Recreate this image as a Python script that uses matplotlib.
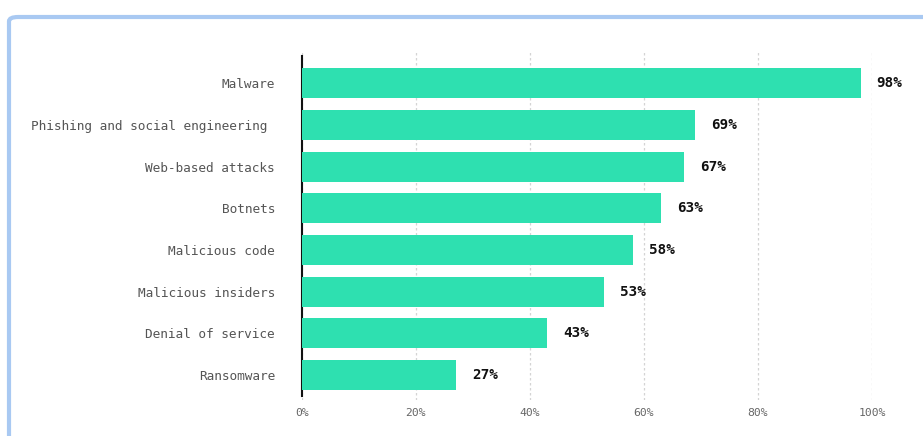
import matplotlib.pyplot as plt
from matplotlib.patches import FancyBboxPatch

# data
categories = ['Malware', 'Phishing and social engineering ', 'Web-based attacks', 'Botnets',
              'Malicious code', 'Malicious insiders', 'Denial of service', 'Ransomware']
values = [98, 69, 67, 63, 58, 53, 43, 27]
xticks = [0, 20, 40, 60, 80, 100]

mono = 'DejaVu Sans Mono'

fig = plt.figure(figsize=(9.23, 4.36), dpi=100)
# light blue frame round the chart
frame = FancyBboxPatch((9 / 923, -0.1), 1.2, 1 - 17 / 436 + 0.1,
                       boxstyle='round,pad=0,rounding_size=0.01',
                       transform=fig.transFigure, facecolor='none',
                       edgecolor='#a9c9f2', linewidth=3, zorder=-1)
fig.patches.append(frame)

ax = fig.add_axes([302 / 923, 36 / 436, (872 - 302) / 923, (400 - 50) / 436])
ax.set_facecolor('none')
y = list(range(len(categories)))
ax.barh(y, values, height=0.72, color='#2ee0b0', zorder=3)
for yi, v in zip(y, values):
    ax.text(v + 2.8, yi, f'{v}%', va='center', ha='left', fontsize=10.3,
            fontweight='bold', family=mono, color='#111111', clip_on=False)

ax.set_xlim(0, 100)
ax.set_ylim(7.6, -0.8)
ax.set_yticks(y)
ax.set_yticklabels(categories, family=mono, fontsize=9.2, color='#555555')
ax.set_xticks(xticks)
ax.set_xticklabels([f'{t}%' for t in xticks], family=mono, fontsize=8.2, color='#666666')
ax.tick_params(axis='both', length=0)
ax.tick_params(axis='y', pad=19.5)
ax.tick_params(axis='x', pad=6)
ax.xaxis.grid(True, color='#d4d4d4', linestyle=(0, (2, 2)), linewidth=0.9, zorder=0)
for s in ['top', 'right', 'bottom']:
    ax.spines[s].set_visible(False)
ax.spines['left'].set_color('#111111')
ax.spines['left'].set_linewidth(1.5)
ax.spines['left'].set_bounds(7.5, -0.65)

fig.savefig('out.png', dpi=100)
